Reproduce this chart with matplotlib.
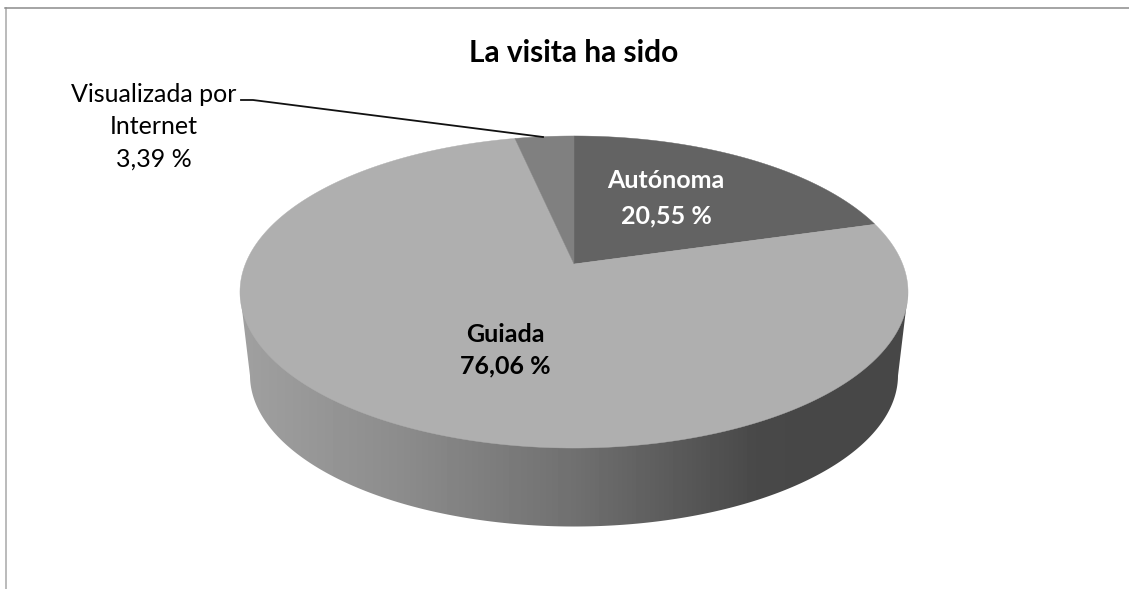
# -*- coding: utf-8 -*-
# Pie 3D estilo Excel: "La visita ha sido"
import numpy as np
import matplotlib
matplotlib.use("Agg")
import matplotlib.pyplot as plt
from matplotlib.patches import Polygon

plt.rcParams["font.family"] = ["Lato", "DejaVu Sans"]

TITLE = "La visita ha sido"
CATEGORIES = ["Autónoma", "Guiada", "Visualizada por\nInternet"]
VALUES = [20.55, 76.06, 3.39]
VALUE_LABELS = ["20,55 %", "76,06 %", "3,39 %"]
COLORS = ["#636363", "#afafaf", "#808080"]

# geometria de la proyeccion (pixeles de la imagen)
W, H = 1129, 589
CX, CY = 574, 264
A, B, K = 328.6, 151.0, 0.1795
DEPTH_SCALE, DEPTH_DY = 0.97, 84


def project(theta, scale=1.0, dy=0.0):
    """theta en radianes, horario desde arriba -> pixel en la perspectiva."""
    u, v = np.sin(theta), np.cos(theta)
    w = 1 + K * v
    return CX + scale * A * u / w, CY + dy + scale * B * v * -1 / w


fig = plt.figure(figsize=(W / 100, H / 100), dpi=100)
ax = fig.add_axes([0, 0, 1, 1])
ax.set_xlim(0, W)
ax.set_ylim(H, 0)
ax.axis("off")

# marco (solo arriba e izquierda se ven)
ax.plot([5.5, 5.5], [H, 7.5], color="#a8a8a8", lw=1.1)
ax.plot([5, W], [7.5, 7.5], color="#8c8c8c", lw=1.1)

# pared lateral con degradado
t = np.linspace(0, 2 * np.pi, 721)
tx, ty = project(t)
bx, by = project(t, DEPTH_SCALE, DEPTH_DY)
i_l, i_r = np.argmin(tx), np.argmax(tx)
j_l, j_r = np.argmin(bx), np.argmax(bx)
# arco inferior del fondo: de derecha a izquierda pasando por abajo
j_seq = np.arange(min(j_l, j_r), max(j_l, j_r) + 1)
wall = np.column_stack([
    np.r_[tx[i_r], bx[j_seq], tx[i_l]],
    np.r_[ty[i_r], by[j_seq], ty[i_l]],
])
grad_x = np.linspace(240, 908, 668)
grad = np.interp(grad_x, [240, 400, 574, 760, 850, 908], [160, 140, 112, 72, 71, 71]) / 255
im = ax.imshow(grad[None, :], cmap="gray", vmin=0, vmax=1, aspect="auto",
               extent=[240, 908, 540, 250], zorder=1)
patch = Polygon(wall, closed=True, transform=ax.transData, fc="none", ec="none")
ax.add_patch(patch)
im.set_clip_path(patch)
ax.set_xlim(0, W)
ax.set_ylim(H, 0)

# cara superior
start = 0.0
for val, col in zip(VALUES, COLORS):
    end = start + val / sum(VALUES) * 2 * np.pi
    th = np.linspace(start, end, 300)
    x, y = project(th)
    pts = np.column_stack([np.r_[CX, x], np.r_[CY, y]])
    ax.add_patch(Polygon(pts, closed=True, fc=col, ec=col, lw=0.3, zorder=2))
    start = end

# linea guia de Internet
ax.plot([241, 253, 543], [100, 100, 137], color="#111111", lw=1.3, zorder=3)

# textos
ax.text(574, 53, TITLE, ha="center", va="center", fontsize=21.5, fontweight="bold", color="black")
ax.text(666, 180, CATEGORIES[0], ha="center", va="center", fontsize=18, fontweight="bold", color="white", zorder=4)
ax.text(666, 216, VALUE_LABELS[0], ha="center", va="center", fontsize=18, fontweight="bold", color="white", zorder=4)
ax.text(505, 334, CATEGORIES[1], ha="center", va="center", fontsize=18, fontweight="bold", color="black", zorder=4)
ax.text(505, 366, VALUE_LABELS[1], ha="center", va="center", fontsize=18, fontweight="bold", color="black", zorder=4)
line1, line2 = CATEGORIES[2].split("\n")
ax.text(154, 95, line1, ha="center", va="center", fontsize=18, color="black")
ax.text(154, 127, line2, ha="center", va="center", fontsize=18, color="black")
ax.text(154, 159, VALUE_LABELS[2], ha="center", va="center", fontsize=18, color="black")

fig.savefig("out.png", dpi=100, facecolor="white")
